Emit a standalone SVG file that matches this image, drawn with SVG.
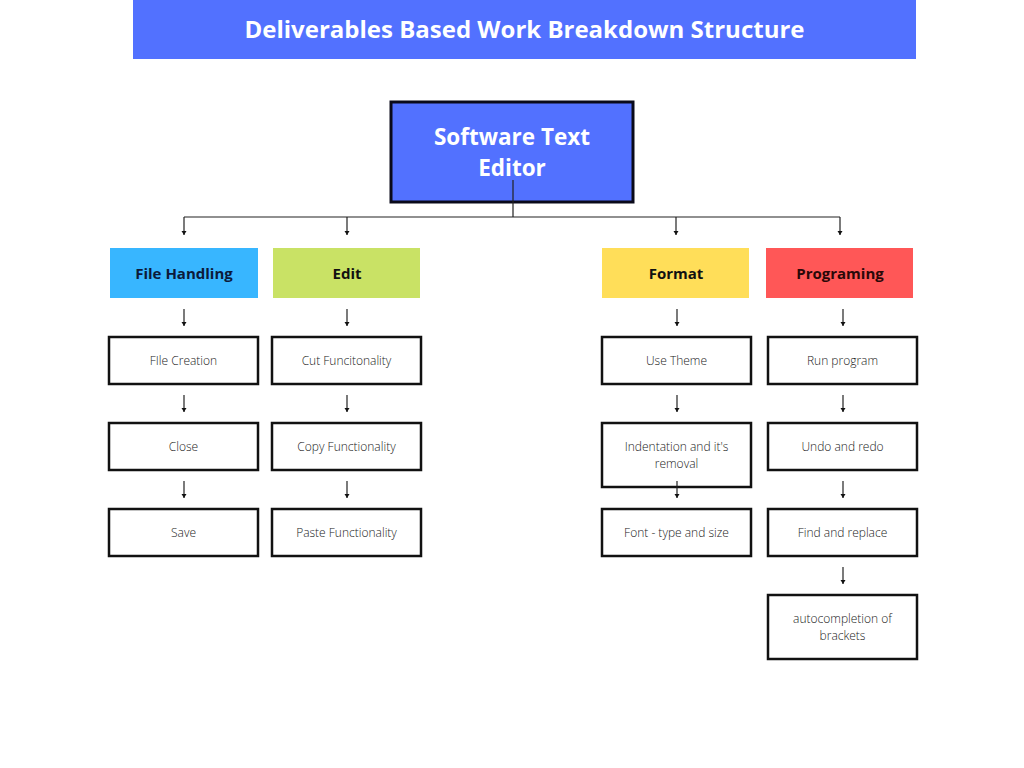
<svg xmlns="http://www.w3.org/2000/svg" width="1024" height="768" viewBox="0 0 1024 768">
<defs>
<style>
.title{font-family:"Open Sans","Liberation Sans",sans-serif;font-weight:700;fill:#fff;text-anchor:middle}
.l1{font-family:"Open Sans","Liberation Sans",sans-serif;font-weight:700;font-size:15px;fill:#111;text-anchor:middle}
.l2{font-family:"Open Sans","Liberation Sans",sans-serif;font-weight:300;font-size:12px;fill:#222;text-anchor:middle}
.box{fill:#fff;stroke:#111;stroke-width:2.5}
.con{fill:none;stroke:#222;stroke-width:1.2}
</style>
<marker id="ah" markerUnits="userSpaceOnUse" markerWidth="6" markerHeight="6" viewBox="0 0 6 6" refX="5" refY="3" orient="auto">
<path d="M1,0.5 L5,3 L1,5.5 Z" fill="#111"/>
</marker>
</defs>
<rect width="1024" height="768" fill="#fff"/>
<g id="title">
<rect x="133" y="0" width="783" height="59" fill="#5271ff"/>
<text class="title" x="524.5" y="38" font-size="24">Deliverables Based Work Breakdown Structure</text>
</g>
<g id="root">
<rect x="391" y="102" width="242" height="100" fill="#5271ff" stroke="#0a0a1a" stroke-width="3"/>
<text class="title" x="512" y="145" font-size="22.5">Software Text</text>
<text class="title" x="512" y="176" font-size="22.5">Editor</text>
</g>
<g id="file-handling">
<rect x="110" y="248" width="148" height="50" fill="#38b6ff"/>
<text class="l1" x="184" y="279" style="fill:#0c1a3a">File Handling</text>
</g>
<g id="edit">
<rect x="273" y="248" width="147" height="50" fill="#c9e265"/>
<text class="l1" x="347" y="279">Edit</text>
</g>
<g id="format">
<rect x="602" y="248" width="147" height="50" fill="#ffde59"/>
<text class="l1" x="676" y="279">Format</text>
</g>
<g id="programing">
<rect x="766" y="248" width="147" height="50" fill="#ff5757"/>
<text class="l1" x="840" y="279" style="fill:#2a0808">Programing</text>
</g>
<g id="file-creation"><rect class="box" x="109" y="337" width="149" height="47"/><text class="l2" x="183.5" y="365">FIle Creation</text></g>
<g id="close"><rect class="box" x="109" y="423" width="149" height="47"/><text class="l2" x="183.5" y="451">Close</text></g>
<g id="save"><rect class="box" x="109" y="509" width="149" height="47"/><text class="l2" x="183.5" y="537">Save</text></g>
<g id="cut"><rect class="box" x="272" y="337" width="149" height="47"/><text class="l2" x="346.5" y="365">Cut Funcitonality</text></g>
<g id="copy"><rect class="box" x="272" y="423" width="149" height="47"/><text class="l2" x="346.5" y="451">Copy Functionality</text></g>
<g id="paste"><rect class="box" x="272" y="509" width="149" height="47"/><text class="l2" x="346.5" y="537">Paste Functionality</text></g>
<g id="use-theme"><rect class="box" x="602" y="337" width="149" height="47"/><text class="l2" x="676.5" y="365">Use Theme</text></g>
<g id="indentation"><rect class="box" x="602" y="423" width="149" height="64"/><text class="l2" x="676.5" y="451">Indentation and it's</text><text class="l2" x="676.5" y="468">removal</text></g>
<g id="font"><rect class="box" x="602" y="509" width="149" height="47"/><text class="l2" x="676.5" y="537">Font - type and size</text></g>
<g id="run-program"><rect class="box" x="768" y="337" width="149" height="47"/><text class="l2" x="842.5" y="365">Run program</text></g>
<g id="undo-redo"><rect class="box" x="768" y="423" width="149" height="47"/><text class="l2" x="842.5" y="451">Undo and redo</text></g>
<g id="find-replace"><rect class="box" x="768" y="509" width="149" height="47"/><text class="l2" x="842.5" y="537">Find and replace</text></g>
<g id="autocompletion"><rect class="box" x="768" y="595" width="149" height="64"/><text class="l2" x="842.5" y="623">autocompletion of</text><text class="l2" x="842.5" y="640">brackets</text></g>
<g id="connectors">
<path class="con" d="M513,180 V217 M184,217 H840"/>
<path class="con" marker-end="url(#ah)" d="M184,217 V235"/>
<path class="con" marker-end="url(#ah)" d="M347,217 V235"/>
<path class="con" marker-end="url(#ah)" d="M676,217 V235"/>
<path class="con" marker-end="url(#ah)" d="M840,217 V235"/>
<path class="con" marker-end="url(#ah)" d="M184,309 V326"/>
<path class="con" marker-end="url(#ah)" d="M347,309 V326"/>
<path class="con" marker-end="url(#ah)" d="M677,309 V326"/>
<path class="con" marker-end="url(#ah)" d="M843,309 V326"/>
<path class="con" marker-end="url(#ah)" d="M184,395 V412"/>
<path class="con" marker-end="url(#ah)" d="M347,395 V412"/>
<path class="con" marker-end="url(#ah)" d="M677,395 V412"/>
<path class="con" marker-end="url(#ah)" d="M843,395 V412"/>
<path class="con" marker-end="url(#ah)" d="M184,481 V498"/>
<path class="con" marker-end="url(#ah)" d="M347,481 V498"/>
<path class="con" marker-end="url(#ah)" d="M677,481 V498"/>
<path class="con" marker-end="url(#ah)" d="M843,481 V498"/>
<path class="con" marker-end="url(#ah)" d="M843,567 V584"/>
</g>
</svg>
